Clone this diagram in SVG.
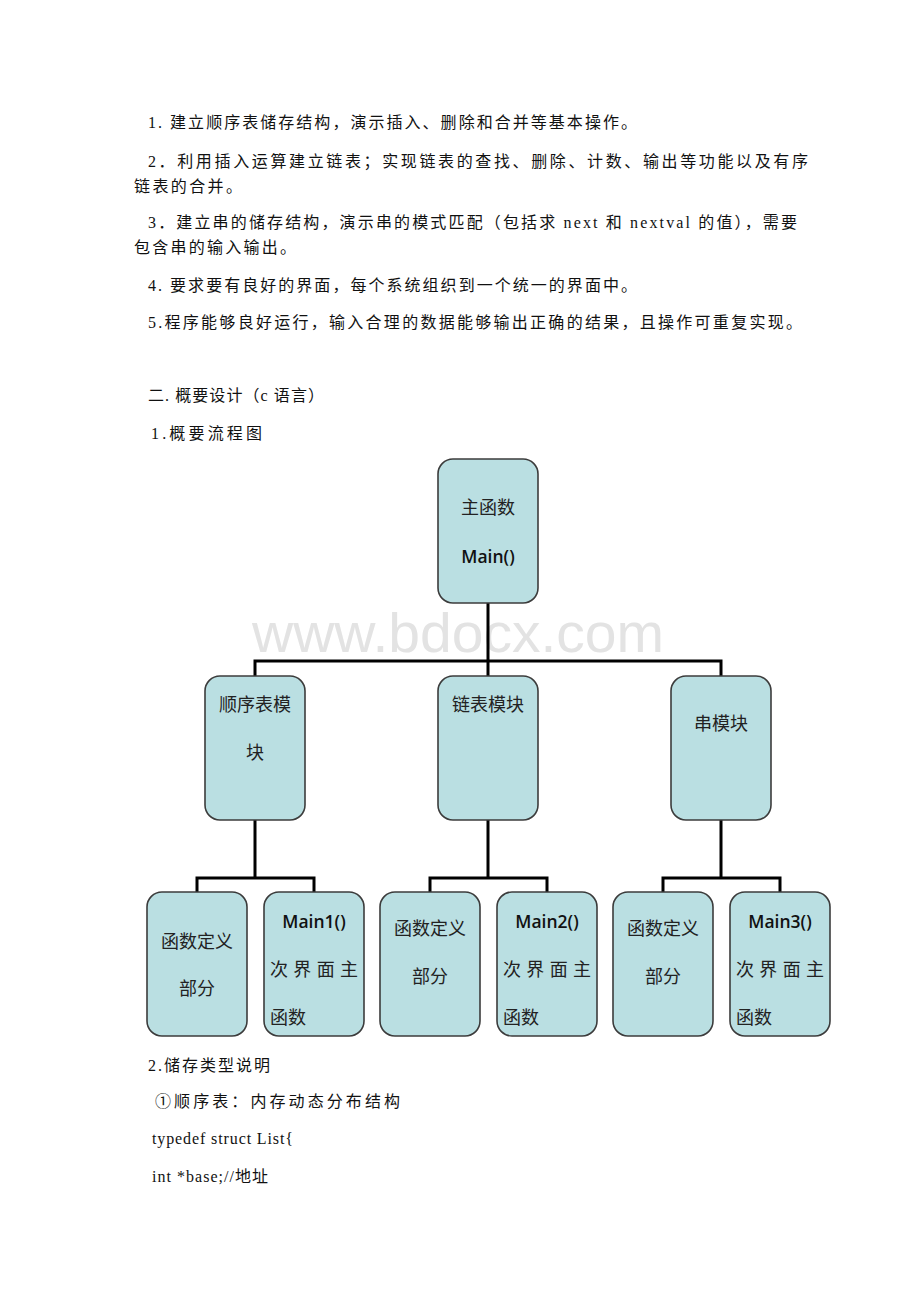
<svg xmlns="http://www.w3.org/2000/svg" width="920" height="1302" viewBox="0 0 920 1302">
<style>
.t{font-family:"Liberation Serif","Noto Sans CJK SC",serif;font-size:16px;fill:#111}
.c{font-family:"Liberation Serif","Noto Sans CJK SC",serif;font-size:18px;fill:#222;text-anchor:middle}
.l{font-family:"Liberation Serif","Noto Sans CJK SC",serif;font-size:18px;fill:#222}
.m{font-family:"Open Sans","Liberation Sans",sans-serif;font-size:17.5px;font-weight:600;fill:#111;text-anchor:middle}
.box{fill:#badfe2;stroke:#3c3c3c;stroke-width:1.6}
.wire{fill:none;stroke:#000;stroke-width:3}
.wm{font-family:"Liberation Sans",Arial,sans-serif;font-size:56px;fill:#e3e3e3}
</style>
<rect width="920" height="1302" fill="#fff"/>
<g id="body-text">
<text class="t" x="148" y="128" textLength="489" lengthAdjust="spacing">1. 建立顺序表储存结构，演示插入、删除和合并等基本操作。</text>
<text class="t" x="148" y="167" textLength="660" lengthAdjust="spacing">2．利用插入运算建立链表；实现链表的查找、删除、计数、输出等功能以及有序</text>
<text class="t" x="134" y="192" textLength="108" lengthAdjust="spacing">链表的合并。</text>
<text class="t" x="148" y="228" textLength="649" lengthAdjust="spacing">3．建立串的储存结构，演示串的模式匹配（包括求 next 和 nextval 的值），需要</text>
<text class="t" x="134" y="253" textLength="162" lengthAdjust="spacing">包含串的输入输出。</text>
<text class="t" x="148" y="291" textLength="489" lengthAdjust="spacing">4. 要求要有良好的界面，每个系统组织到一个统一的界面中。</text>
<text class="t" x="148" y="328" textLength="654" lengthAdjust="spacing">5.程序能够良好运行，输入合理的数据能够输出正确的结果，且操作可重复实现。</text>
<text class="t" x="148" y="401" textLength="176" lengthAdjust="spacing">二. 概要设计（c 语言）</text>
<text class="t" x="151" y="439" textLength="111" lengthAdjust="spacing">1.概要流程图</text>
<text class="t" x="148" y="1071" textLength="122" lengthAdjust="spacing">2.储存类型说明</text>
<text class="t" x="155" y="1107" textLength="245" lengthAdjust="spacing">①顺序表：内存动态分布结构</text>
<text class="t" x="152" y="1144" textLength="141" lengthAdjust="spacing">typedef struct List{</text>
<text class="t" x="152" y="1182" textLength="116" lengthAdjust="spacing">int *base;//地址</text>
</g>
<text class="wm" x="252" y="652" textLength="412" lengthAdjust="spacingAndGlyphs">www.bdocx.com</text>
<g id="connectors">
<path class="wire" d="M488 603V661M255 676V661H721V676M488 661V676"/>
<path class="wire" d="M255 820V878M197 892V878H314V892"/>
<path class="wire" d="M488 820V878M430 892V878H547V892"/>
<path class="wire" d="M721 820V878M663 892V878H780V892"/>
</g>
<g id="main">
<rect class="box" x="438" y="459" width="100" height="144" rx="15"/>
<text class="c" x="488" y="514">主函数</text>
<text class="m" x="488" y="563">Main()</text>
</g>
<g id="seqlist">
<rect class="box" x="205" y="676" width="100" height="144" rx="15"/>
<text class="c" x="255" y="711">顺序表模</text>
<text class="c" x="255" y="759">块</text>
</g>
<g id="linklist">
<rect class="box" x="438" y="676" width="100" height="144" rx="15"/>
<text class="c" x="488" y="711">链表模块</text>
</g>
<g id="string">
<rect class="box" x="671" y="676" width="100" height="144" rx="15"/>
<text class="c" x="721" y="730">串模块</text>
</g>
<g id="func1">
<rect class="box" x="147" y="892" width="100" height="144" rx="15"/>
<text class="c" x="197" y="948">函数定义</text>
<text class="c" x="197" y="995">部分</text>
</g>
<g id="main1">
<rect class="box" x="264" y="892" width="100" height="144" rx="15"/>
<text class="m" x="314" y="928">Main1()</text>
<text class="l" x="270" y="976" textLength="88" lengthAdjust="spacing">次界面主</text>
<text class="l" x="270" y="1024">函数</text>
</g>
<g id="func2">
<rect class="box" x="380" y="892" width="100" height="144" rx="15"/>
<text class="c" x="430" y="935">函数定义</text>
<text class="c" x="430" y="983">部分</text>
</g>
<g id="main2">
<rect class="box" x="497" y="892" width="100" height="144" rx="15"/>
<text class="m" x="547" y="928">Main2()</text>
<text class="l" x="503" y="976" textLength="88" lengthAdjust="spacing">次界面主</text>
<text class="l" x="503" y="1024">函数</text>
</g>
<g id="func3">
<rect class="box" x="613" y="892" width="100" height="144" rx="15"/>
<text class="c" x="663" y="935">函数定义</text>
<text class="c" x="663" y="983">部分</text>
</g>
<g id="main3">
<rect class="box" x="730" y="892" width="100" height="144" rx="15"/>
<text class="m" x="780" y="928">Main3()</text>
<text class="l" x="736" y="976" textLength="88" lengthAdjust="spacing">次界面主</text>
<text class="l" x="736" y="1024">函数</text>
</g>
</svg>
